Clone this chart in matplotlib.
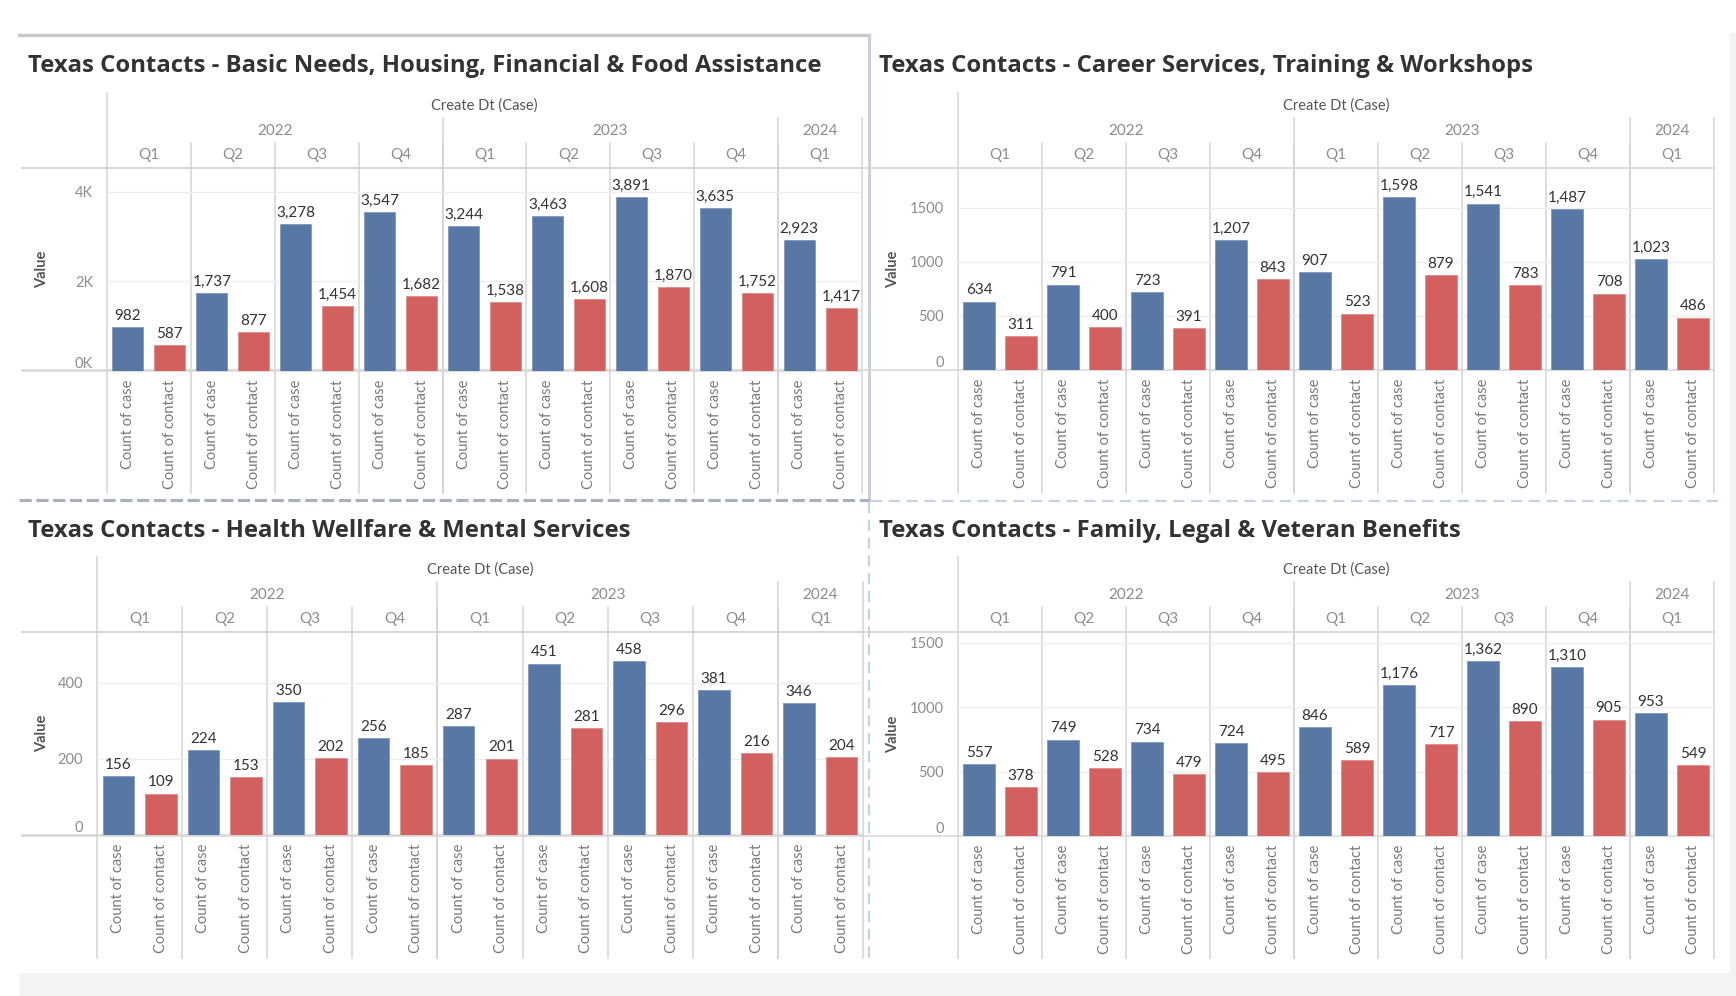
import matplotlib
matplotlib.use("Agg")
import matplotlib.pyplot as plt
from matplotlib.lines import Line2D
from matplotlib.patches import Rectangle

plt.rcParams['font.family'] = ['Lato', 'DejaVu Sans']

W, H = 1736, 996

# data
years = ["2022", "2023", "2024"]
quarters = ["Q1", "Q2", "Q3", "Q4", "Q1", "Q2", "Q3", "Q4", "Q1"]
year_span = [4, 4, 1]
measures = ["Count of case", "Count of contact"]

titles = [
    "Texas Contacts - Basic Needs, Housing, Financial & Food Assistance",
    "Texas Contacts - Career Services, Training & Workshops",
    "Texas Contacts - Health Wellfare & Mental Services",
    "Texas Contacts - Family, Legal & Veteran Benefits",
]
basic_case = [982, 1737, 3278, 3547, 3244, 3463, 3891, 3635, 2923]
basic_contact = [587, 877, 1454, 1682, 1538, 1608, 1870, 1752, 1417]
career_case = [634, 791, 723, 1207, 907, 1598, 1541, 1487, 1023]
career_contact = [311, 400, 391, 843, 523, 879, 783, 708, 486]
health_case = [156, 224, 350, 256, 287, 451, 458, 381, 346]
health_contact = [109, 153, 202, 185, 201, 281, 296, 216, 204]
family_case = [557, 749, 734, 724, 846, 1176, 1362, 1310, 953]
family_contact = [378, 528, 479, 495, 589, 717, 890, 905, 549]

basic_ticks = [0, 2000, 4000]
basic_ticklabels = ["0K", "2K", "4K"]
career_ticks = [0, 500, 1000, 1500]
health_ticks = [0, 200, 400]
family_ticks = [0, 500, 1000, 1500]

BLUE = "#5778a4"
RED = "#d1605e"
LINE = "#d4d4d4"
GRID = "#eeeeee"

# layout of each panel in pixels
panels = [
    dict(title=titles[0], case=basic_case, contact=basic_contact, ticks=basic_ticks,
         labels=basic_ticklabels, ymax=4536, x0=107, x1=862, top=93, yh=168, yb=371,
         bot=493, tx=28, ty=66, vx=42),
    dict(title=titles[1], case=career_case, contact=career_contact, ticks=career_ticks,
         labels=[str(t) for t in career_ticks], ymax=1870, x0=958, x1=1714, top=93,
         yh=168, yb=370, bot=493, tx=879, ty=66, vx=893),
    dict(title=titles[2], case=health_case, contact=health_contact, ticks=health_ticks,
         labels=[str(t) for t in health_ticks], ymax=534, x0=97, x1=863, top=557,
         yh=632, yb=835, bot=958, tx=28, ty=531, vx=42),
    dict(title=titles[3], case=family_case, contact=family_contact, ticks=family_ticks,
         labels=[str(t) for t in family_ticks], ymax=1585, x0=958, x1=1714, top=557,
         yh=632, yb=836, bot=958, tx=879, ty=531, vx=893),
]

fig = plt.figure(figsize=(W / 100, H / 100), dpi=100)
bg = fig.add_axes([0, 0, 1, 1])
bg.set_xlim(0, W)
bg.set_ylim(H, 0)
bg.axis("off")

# dashboard chrome
bg.add_patch(Rectangle((1730, 33), 6, 963, color="#f3f3f3", lw=0))
bg.add_patch(Rectangle((19, 973), 1717, 23, color="#f3f3f3", lw=0))
bg.add_line(Line2D([19, 869], [35, 35], color="#c8c8c8", lw=2.4))
bg.add_line(Line2D([869, 869], [35, 500], color="#c9d0da", lw=2.2))
bg.add_line(Line2D([19, 869], [500, 500], color="#a8b0bc", lw=2.2, ls=(0, (4, 1.5))))
bg.add_line(Line2D([871, 1722], [501, 501], color="#c5d2e4", lw=1.6, ls=(0, (5, 3))))
bg.add_line(Line2D([869, 869], [502, 963], color="#c5d2e4", lw=1.6, ls=(0, (5, 3))))

for p in panels:
    x0, x1 = p["x0"], p["x1"]
    qw = (x1 - x0) / len(quarters)

    bg.text(p["tx"], p["ty"], p["title"], fontsize=17.2, fontweight="bold",
            family=["Open Sans", "DejaVu Sans"], color="#333333", va="center", ha="left")
    bg.text((x0 + x1) / 2, p["top"] + 13, "Create Dt (Case)", fontsize=10.5,
            color="#555555", va="center", ha="center")
    bg.text(p["vx"], (p["yh"] + p["yb"]) / 2, "Value", fontsize=10.5, color="#555555",
            rotation=90, va="center", ha="center", fontweight="bold")

    # header grid lines
    bg.add_line(Line2D([22, x1], [p["yh"], p["yh"]], color=LINE, lw=1.1))
    bg.add_line(Line2D([22, x1], [p["yb"], p["yb"]], color=LINE, lw=1.1))
    bg.add_line(Line2D([x0, x0], [p["top"], p["bot"]], color=LINE, lw=1.1))
    start = 0
    for yr, span in zip(years, year_span):
        xs = x0 + start * qw
        xe = x0 + (start + span) * qw
        bg.text((xs + xe) / 2, p["top"] + 38, yr, fontsize=11, color="#8c8c8c",
                va="center", ha="center")
        bg.add_line(Line2D([xe, xe], [p["top"] + 25, p["bot"]], color=LINE, lw=1.1))
        start += span
    for i, q in enumerate(quarters):
        xs = x0 + i * qw
        bg.text(xs + qw / 2, p["top"] + 62, q, fontsize=11, color="#8c8c8c",
                va="center", ha="center")
        if i > 0:
            bg.add_line(Line2D([xs, xs], [p["top"] + 50, p["bot"]], color=LINE, lw=1.1))

    # bars
    ax = fig.add_axes([x0 / W, 1 - p["yb"] / H, (x1 - x0) / W, (p["yb"] - p["yh"]) / H])
    ax.patch.set_alpha(0)
    pos_case = [2 * i for i in range(len(quarters))]
    pos_contact = [2 * i + 1 for i in range(len(quarters))]
    b1 = ax.bar(pos_case, p["case"], width=0.74, color=BLUE, edgecolor="#7f98bd", lw=0.6, zorder=3)
    b2 = ax.bar(pos_contact, p["contact"], width=0.74, color=RED, edgecolor="#e08c8a", lw=0.6, zorder=3)
    for bars, vals in ((b1, p["case"]), (b2, p["contact"])):
        ax.bar_label(bars, labels=[f"{v:,}" for v in vals], padding=3, fontsize=11,
                     color="#333333")
    ax.set_xlim(-0.5, 2 * len(quarters) - 0.5)
    ax.set_ylim(0, p["ymax"])
    ax.set_yticks(p["ticks"])
    ax.set_yticklabels(p["labels"], fontsize=10.5, color="#8c8c8c")
    ax.get_yticklabels()[0].set_va("bottom")
    ax.set_xticks(pos_case + pos_contact)
    ax.set_xticklabels([measures[0]] * len(pos_case) + [measures[1]] * len(pos_contact),
                       rotation=90, fontsize=10.5, color="#7a7a7a", va="top")
    ax.tick_params(axis="both", length=0)
    ax.tick_params(axis="y", pad=10)
    ax.tick_params(axis="x", pad=6)
    ax.grid(axis="y", color=GRID, lw=1, zorder=0)
    for s in ax.spines.values():
        s.set_visible(False)

fig.savefig("out.png", dpi=100)
